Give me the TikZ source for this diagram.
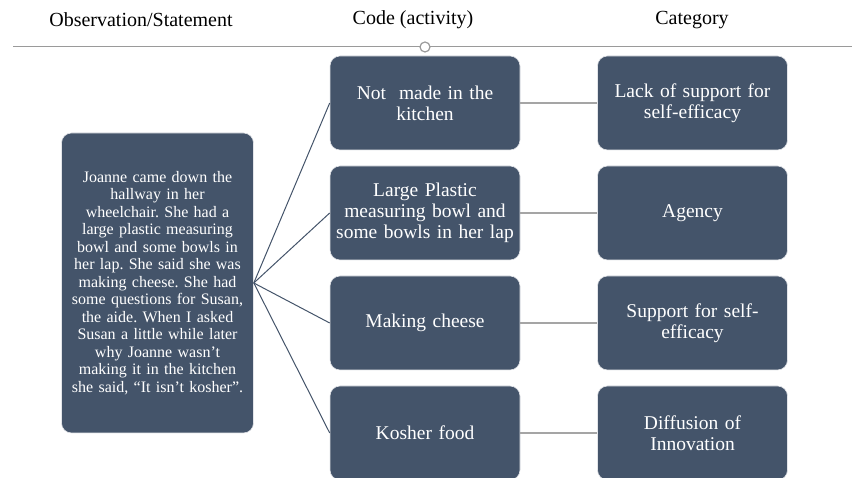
\documentclass[tikz,border=0pt]{standalone}
\usepackage{fontspec}
\setmainfont{Liberation Serif}
\frenchspacing
\definecolor{slate}{HTML}{44546A}
\definecolor{rulegrey}{HTML}{9A9A9A}
\definecolor{linkgrey}{HTML}{A5A5A5}
\begin{document}
\begin{tikzpicture}[x=1pt,y=1pt,
  card/.style={draw=white!85!slate, line width=0.6pt, fill=slate, rounded corners=10pt,
    text=white, align=center, inner sep=2pt},
  codecard/.style={card, minimum width=189pt, minimum height=94pt, text width=186pt,
    font=\fontsize{19.5}{21}\selectfont},
  head/.style={font=\fontsize{20}{22}\selectfont},
  fanlink/.style={draw=slate, line width=1pt},
  catlink/.style={draw=linkgrey, line width=1.5pt}]
\useasboundingbox (0,0) rectangle (852,478);

% column headings and rule
\node[head] (h1) at (141,458) {Observation/Statement};
\node[head] (h2) at (413,458) {Code (activity)};
\node[head] (h3) at (692,458) {Category};
\coordinate (rl) at (13,431);
\coordinate (rr) at (852,431);
\draw[rulegrey, line width=1pt] (rl) -- (rr);
\node[circle, draw=rulegrey, fill=white, line width=1.2pt, minimum size=10pt, inner sep=0pt] (dot) at (425,431) {};

% observation
\node[card, minimum width=191pt, minimum height=300pt, text width=188pt,
  font=\fontsize{16}{17.5}\selectfont] (obs) at (157.5,195) {Joanne came down the\\hallway in her\\wheelchair. She had a\\large plastic measuring\\bowl and some bowls in\\her lap. She said she was\\making cheese. She had\\some questions for Susan,\\the aide. When I asked\\Susan a little while later\\why Joanne wasn’t\\making it in the kitchen\\she said, “It isn’t kosher”.};

% codes
\node[codecard] (c1) at (425,375) {Not~ made in the\\kitchen};
\node[codecard] (c2) at (425,265) {Large Plastic\\measuring bowl and\\some bowls in her lap};
\node[codecard] (c3) at (425,155) {Making cheese};
\node[codecard] (c4) at (425,45) {Kosher food};

% categories
\node[codecard] (k1) at (692.5,375) {Lack of support for\\self-efficacy};
\node[codecard] (k2) at (692.5,265) {Agency};
\node[codecard] (k3) at (692.5,155) {Support for self-\\efficacy};
\node[codecard] (k4) at (692.5,45) {Diffusion of\\Innovation};

% links
\foreach \c in {c1,c2,c3,c4} \draw[fanlink] (obs.east) -- (\c.west);
\foreach \c/\k in {c1/k1,c2/k2,c3/k3,c4/k4} \draw[catlink] (\c.east) -- (\k.west);
\end{tikzpicture}
\end{document}
